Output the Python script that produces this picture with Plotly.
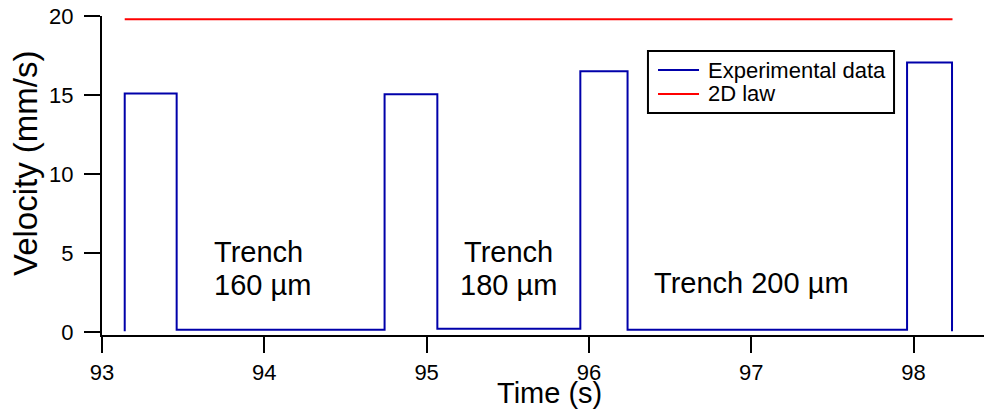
import plotly.graph_objects as go

# Measured velocity trace (step profile across the trenches)
time_s = [93.14, 93.14, 93.46, 93.46, 94.741, 94.741, 95.066, 95.066,
          95.947, 95.947, 96.238, 96.238, 97.96, 97.96, 98.237, 98.237]
velocity_mm_s = [0.05, 15.09, 15.09, 0.15, 0.15, 15.04, 15.04, 0.2,
                 0.2, 16.5, 16.5, 0.15, 0.15, 17.05, 17.05, 0.05]

# 2D law prediction
law_time_s = [93.14, 98.24]
law_velocity_mm_s = [19.8, 19.8]

x_ticks = [93, 94, 95, 96, 97, 98]
y_ticks = [0, 5, 10, 15, 20]

series_names = ["Experimental data", "2D law"]
series_colors = ["#0000AA", "#FF0000"]

FONT = "Liberation Sans, Arial, Helvetica, sans-serif"

fig = go.Figure()
fig.add_trace(go.Scatter(x=time_s, y=velocity_mm_s, mode="lines",
                         name=series_names[0],
                         line=dict(color=series_colors[0], width=2)))
fig.add_trace(go.Scatter(x=law_time_s, y=law_velocity_mm_s, mode="lines",
                         name=series_names[1],
                         line=dict(color=series_colors[1], width=2)))

axis_common = dict(showline=True, linecolor="black", linewidth=2,
                   ticks="outside", ticklen=16, tickwidth=2, tickcolor="black",
                   showgrid=False, zeroline=False,
                   tickfont=dict(family=FONT, size=22, color="black"))

fig.update_xaxes(range=[93, 98.434], tickvals=x_ticks,
                 ticklabelstandoff=1, **axis_common)
fig.update_yaxes(range=[-0.19, 20], tickvals=y_ticks,
                 ticklabelstandoff=6, **axis_common)

notes = [
    dict(text="Trench", x=93.68, y=5.06, xanchor="left"),
    dict(text="160 µm", x=93.68, y=2.99, xanchor="left"),
    dict(text="Trench", x=95.505, y=5.06, xanchor="center"),
    dict(text="180 µm", x=95.505, y=2.96, xanchor="center"),
    dict(text="Trench 200 µm", x=97.0, y=3.08, xanchor="center"),
]
annotations = [dict(xref="x", yref="y", yanchor="middle", showarrow=False,
                    font=dict(family=FONT, size=29, color="black"), **n)
               for n in notes]
annotations.append(dict(text="Time (s)", xref="paper", yref="paper",
                        x=0.507, y=-0.182, xanchor="center", yanchor="middle",
                        showarrow=False,
                        font=dict(family=FONT, size=29, color="black")))
annotations.append(dict(text="Velocity (mm/s)", xref="paper", yref="paper",
                        x=-0.0873, y=0.539, xanchor="center", yanchor="middle",
                        textangle=-90, showarrow=False,
                        font=dict(family=FONT, size=33, color="black")))

# Boxed key in the upper right of the plot area
shapes = [dict(type="rect", xref="paper", yref="paper",
               x0=0.619, x1=0.898, y0=0.696, y1=0.890,
               line=dict(color="black", width=2), fillcolor="white",
               layer="above")]
key_rows_y = [0.8307, 0.7555]
for name, color, ry in zip(series_names, series_colors, key_rows_y):
    shapes.append(dict(type="line", xref="paper", yref="paper",
                       x0=0.6304, x1=0.6769, y0=ry, y1=ry,
                       line=dict(color=color, width=2), layer="above"))
    annotations.append(dict(text=name, xref="paper", yref="paper",
                            x=0.685, y=ry, xanchor="left", yanchor="middle",
                            showarrow=False,
                            font=dict(family=FONT, size=22, color="black")))

fig.update_layout(
    width=984, height=412,
    margin=dict(l=102, r=0, t=16, b=77),
    paper_bgcolor="white", plot_bgcolor="white",
    font=dict(family=FONT, color="black"),
    annotations=annotations,
    shapes=shapes,
    showlegend=False,
)

fig.write_html("out.html")
